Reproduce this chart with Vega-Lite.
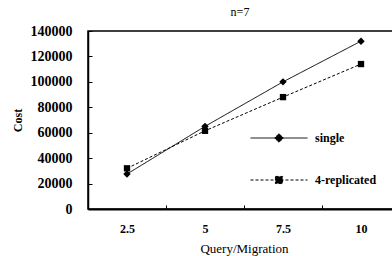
{
  "$schema": "https://vega.github.io/schema/vega-lite/v6.json",
  "width": 312,
  "height": 178,
  "autosize": {"type": "none"},
  "padding": {"left": 88, "top": 31, "right": 0, "bottom": 47},
  "background": "white",
  "title": {"text": "n=7", "font": "Liberation Serif", "fontSize": 12, "fontWeight": "normal", "color": "black", "offset": 5, "anchor": "middle", "dx": -4},
  "config": {
    "view": {"stroke": "black", "strokeWidth": 1.5},
    "axis": {"domainColor": "black", "tickColor": "black", "labelColor": "black", "titleColor": "black", "grid": false}
  },
  "data": {"values": [
    {"qm": 2.5, "cost": 27500, "series": "single"},
    {"qm": 5, "cost": 65000, "series": "single"},
    {"qm": 7.5, "cost": 100000, "series": "single"},
    {"qm": 10, "cost": 132000, "series": "single"},
    {"qm": 2.5, "cost": 32000, "series": "4-replicated"},
    {"qm": 5, "cost": 61500, "series": "4-replicated"},
    {"qm": 7.5, "cost": 88000, "series": "4-replicated"},
    {"qm": 10, "cost": 114000, "series": "4-replicated"}
  ]},
  "encoding": {
    "x": {"field": "qm", "type": "ordinal",
      "scale": {"paddingInner": 0, "paddingOuter": 0},
      "axis": {"title": "Query/Migration", "titleFont": "Liberation Serif", "titleFontWeight": "normal", "titleFontSize": 13, "titlePadding": 8,
        "labelFont": "Liberation Serif", "labelFontWeight": "bold", "labelFontSize": 12, "labelAngle": 0, "labelPadding": 18,
        "tickBand": "extent", "tickSize": -4, "domainWidth": 2}},
    "y": {"field": "cost", "type": "quantitative",
      "scale": {"domain": [0, 140000]},
      "axis": {"title": "Cost", "titleFont": "Liberation Serif", "titleFontWeight": "bold", "titleFontSize": 12, "titlePadding": 6,
        "labelFont": "Liberation Serif", "labelFontWeight": "bold", "labelFontSize": 14, "labelPadding": 20,
        "values": [0, 20000, 40000, 60000, 80000, 100000, 120000, 140000],
        "format": "d", "tickSize": -4, "domainWidth": 1.5}}
  },
  "layer": [
    {"mark": {"type": "line", "color": "black", "strokeWidth": 1},
     "encoding": {"strokeDash": {"field": "series", "type": "nominal",
       "scale": {"domain": ["single", "4-replicated"], "range": [[1, 0], [3, 2]]},
       "legend": {"orient": "none", "legendX": 176, "legendY": 92, "title": null, "padding": 0,
         "labelFont": "Liberation Serif", "labelFontWeight": "bold", "labelFontSize": 12, "labelColor": "black",
         "symbolSize": 812, "symbolStrokeWidth": 1, "symbolStrokeColor": "black", "labelOffset": 21, "rowPadding": 20,
         "encode": {"symbols": {"update": {
           "shape": {"signal": "datum.value === 'single' ? 'M-2,0H2M0,-0.3L0.3,0L0,0.3L-0.3,0Z' : 'M-2,0H2M-0.25,-0.25H0.25V0.25H-0.25Z'"},
           "fill": {"value": "black"}, "stroke": {"value": "black"}}}}}}}},
    {"transform": [{"filter": "datum.series === 'single'"}],
     "mark": {"type": "point", "filled": true, "color": "black", "opacity": 1, "shape": "diamond", "size": 55}},
    {"transform": [{"filter": "datum.series === '4-replicated'"}],
     "mark": {"type": "point", "filled": true, "color": "black", "opacity": 1, "shape": "square", "size": 40}}
  ]
}
